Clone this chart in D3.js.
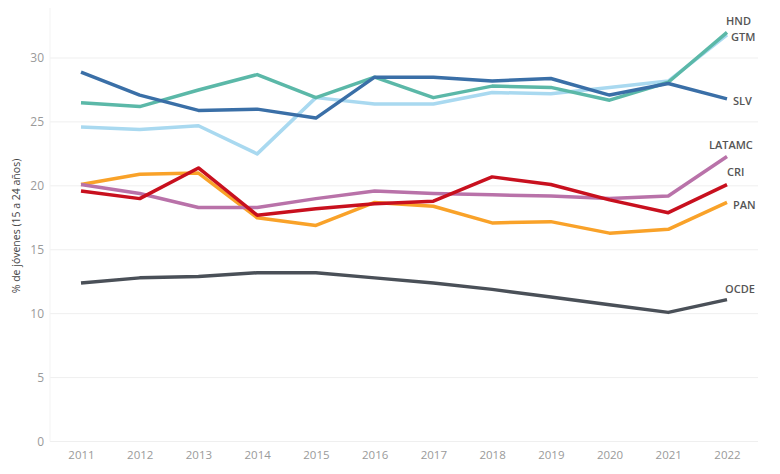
<!DOCTYPE html>
<html>
<head>
<meta charset="utf-8">
<script src="https://cdn.jsdelivr.net/npm/d3@7"></script>
<style>
  body { margin: 0; background: #fff; }
  svg { display: block; font-family: "Open Sans", sans-serif; }
</style>
</head>
<body>
<div id="chart"></div>
<script>
// data
const years = [2011, 2012, 2013, 2014, 2015, 2016, 2017, 2018, 2019, 2020, 2021, 2022];
const yTicks = [0, 5, 10, 15, 20, 25, 30];

const hnd    = [26.5, 26.2, 27.5, 28.7, 26.9, 28.5, 26.9, 27.8, 27.7, 26.7, 28.1, 32.0];
const gtm    = [24.6, 24.4, 24.7, 22.5, 26.9, 26.4, 26.4, 27.3, 27.2, 27.7, 28.2, 31.8];
const slv    = [28.9, 27.1, 25.9, 26.0, 25.3, 28.5, 28.5, 28.2, 28.4, 27.1, 28.0, 26.8];
const latamc = [20.1, 19.4, 18.3, 18.3, 19.0, 19.6, 19.4, 19.3, 19.2, 19.0, 19.2, 22.3];
const cri    = [19.6, 19.0, 21.4, 17.7, 18.2, 18.6, 18.8, 20.7, 20.1, 18.9, 17.9, 20.1];
const pan    = [20.1, 20.9, 21.0, 17.5, 16.9, 18.7, 18.4, 17.1, 17.2, 16.3, 16.6, 18.7];
const ocde   = [12.4, 12.8, 12.9, 13.2, 13.2, 12.8, 12.4, 11.9, 11.3, 10.7, 10.1, 11.1];

const series = [
  { name: 'GTM',    values: gtm,    color: '#a9d9f0', lx: 4,  ly: 6 },
  { name: 'HND',    values: hnd,    color: '#5bb8a8', lx: -1, ly: -7 },
  { name: 'SLV',    values: slv,    color: '#3a6fa7', lx: 6,  ly: 6 },
  { name: 'OCDE',   values: ocde,   color: '#4a5058', lx: -2, ly: -7 },
  { name: 'PAN',    values: pan,    color: '#f9a229', lx: 6,  ly: 7 },
  { name: 'LATAMC', values: latamc, color: '#b972a9', lx: -18, ly: -7 },
  { name: 'CRI',    values: cri,    color: '#c8101e', lx: 0,  ly: -9 }
];

const W = 780, H = 474;
const svg = d3.select('#chart').append('svg')
  .attr('width', W).attr('height', H);

const x = d3.scalePoint().domain(years).range([81, 727]);
const y = d3.scaleLinear().domain([0, 30]).range([441.5, 58]);

// grid
svg.append('g')
  .selectAll('line')
  .data(yTicks)
  .enter().append('line')
    .attr('x1', 50).attr('x2', 758)
    .attr('y1', d => y(d)).attr('y2', d => y(d))
    .attr('stroke', '#efefef').attr('stroke-width', 1);

svg.append('line')
  .attr('x1', 50).attr('x2', 50)
  .attr('y1', 8).attr('y2', y(0))
  .attr('stroke', '#f3f3f3');

// Y axis
const yAxis = svg.append('g')
  .attr('transform', 'translate(44,0)')
  .call(d3.axisLeft(y).tickValues(yTicks).tickSize(0).tickPadding(0));
yAxis.select('.domain').remove();
yAxis.selectAll('text')
  .attr('fill', '#9a9a9a').attr('font-size', 12)
  .attr('font-family', '"Open Sans", sans-serif');

// X axis
const xAxis = svg.append('g')
  .attr('transform', `translate(0,${y(0)})`)
  .call(d3.axisBottom(x).tickSize(0).tickPadding(9));
xAxis.select('.domain').remove();
xAxis.selectAll('text')
  .attr('fill', '#9a9a9a').attr('font-size', 11.5)
  .attr('font-family', '"Open Sans", sans-serif');

// y label
svg.append('text')
  .attr('transform', 'translate(20,226) rotate(-90)')
  .attr('text-anchor', 'middle')
  .attr('font-size', 10.5)
  .attr('fill', '#444')
  .text('% de jóvenes (15 a 24 años)');

// lines
const line = d3.line()
  .x((d, i) => x(years[i]))
  .y(d => y(d));

svg.append('g')
  .selectAll('path')
  .data(series)
  .enter().append('path')
    .attr('d', d => line(d.values))
    .attr('fill', 'none')
    .attr('stroke', d => d.color)
    .attr('stroke-width', 3.5)
    .attr('stroke-linejoin', 'round');

// end labels
svg.append('g')
  .selectAll('text')
  .data(series)
  .enter().append('text')
    .attr('x', d => x(years[years.length - 1]) + d.lx)
    .attr('y', d => y(d.values[d.values.length - 1]) + d.ly)
    .attr('font-size', 11)
    .attr('font-weight', 600)
    .attr('fill', '#555')
    .text(d => d.name);
</script>
</body>
</html>
